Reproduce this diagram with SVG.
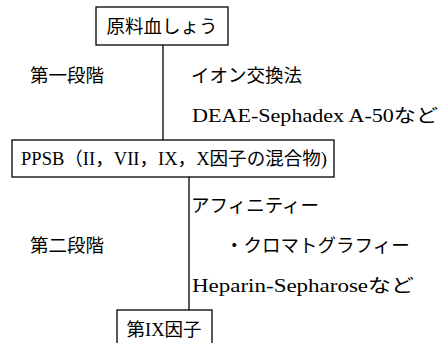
<svg xmlns="http://www.w3.org/2000/svg" width="446" height="343" viewBox="0 0 446 343">
<style>
.box{fill:#fff;stroke:#000;stroke-width:1.3}
.ln{stroke:#000;stroke-width:1.3;fill:none}
text{font-family:"Liberation Serif","Noto Sans CJK JP",serif;font-size:18.5px;fill:#000}
</style>
<g id="connectors">
<line class="ln" x1="163" y1="45" x2="163" y2="140"/>
<line class="ln" x1="189" y1="177" x2="189" y2="310"/>
</g>
<g id="n1">
<rect class="box" x="96" y="7" width="132" height="38"/>
<text x="162" y="33" text-anchor="middle">原料血しょう</text>
</g>
<g id="n2">
<rect class="box" x="12" y="140" width="322" height="37"/>
<text x="21" y="165" textLength="306" lengthAdjust="spacingAndGlyphs">PPSB（II，VII，IX，X因子の混合物)</text>
</g>
<g id="n3">
<rect class="box" x="117" y="310" width="95" height="40"/>
<text x="164" y="336" text-anchor="middle">第IX因子</text>
</g>
<g id="labels">
<text x="30" y="82">第一段階</text>
<text x="191" y="82">イオン交換法</text>
<text x="192" y="122" textLength="246" lengthAdjust="spacingAndGlyphs">DEAE-Sephadex A-50など</text>
<text x="191" y="212">アフィニティー</text>
<text x="30" y="252">第二段階</text>
<text x="225" y="252">・クロマトグラフィー</text>
<text x="192" y="292" textLength="222" lengthAdjust="spacingAndGlyphs">Heparin-Sepharoseなど</text>
</g>
</svg>
